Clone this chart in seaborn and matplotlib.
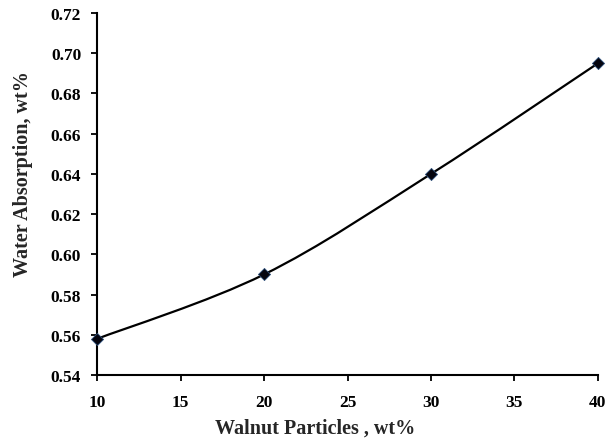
"""
plot.py -- water absorption vs walnut particle content
"""
import numpy as np
import pandas as pd
import matplotlib
matplotlib.use("Agg")
import matplotlib.pyplot as plt
import seaborn as sns
from matplotlib.path import Path
from matplotlib.patches import PathPatch

# -------------------------------------------------------------------
# data
# -------------------------------------------------------------------
walnut_wt = [10, 20, 30, 40]
water_abs = [0.558, 0.590, 0.640, 0.695]
x_ticks = [10, 15, 20, 25, 30, 35, 40]
y_ticks = [0.54, 0.56, 0.58, 0.60, 0.62, 0.64, 0.66, 0.68, 0.70, 0.72]

df = pd.DataFrame({"wt": walnut_wt, "wa": water_abs})

sns.set_theme(style="ticks")
plt.rcParams["font.family"] = ["Liberation Serif", "DejaVu Serif"]
plt.rcParams["font.weight"] = "bold"


def smooth_path(xs, ys):
    """Excel-style smoothed line (Catmull-Rom as cubic Bezier)"""
    pts = np.column_stack([xs, ys]).astype(float)
    n = len(pts)
    verts = [pts[0]]
    codes = [Path.MOVETO]
    for i in range(n - 1):
        p0 = pts[i - 1] if i > 0 else pts[i]
        p1, p2 = pts[i], pts[i + 1]
        p3 = pts[i + 2] if i + 2 < n else pts[i + 1]
        c1 = p1 + (p2 - p0) / 6
        c2 = p2 - (p3 - p1) / 6
        verts += [c1, c2, p2]
        codes += [Path.CURVE4] * 3
    return Path(verts, codes)


fig = plt.figure(figsize=(6.07, 4.39), dpi=100)
ax = fig.add_axes([0.160, 0.1435, 0.825, 0.8245])

ax.add_patch(PathPatch(smooth_path(df["wt"], df["wa"]), fill=False,
                       edgecolor="black", lw=1.6, zorder=2))
sns.scatterplot(data=df, x="wt", y="wa", marker="D", s=38, color="#05050f",
                edgecolor="#2d4f7a", linewidth=0.6, zorder=3, ax=ax,
                clip_on=False)

ax.set_xlim(10, 40)
ax.set_ylim(0.54, 0.72)
ax.set_xticks(x_ticks)
ax.set_yticks(y_ticks)
ax.set_yticklabels([f"{v:.2f}" for v in y_ticks])

for side in ("top", "right"):
    ax.spines[side].set_visible(False)
for side in ("left", "bottom"):
    ax.spines[side].set_linewidth(1.5)
    ax.spines[side].set_color("black")

ax.tick_params(axis="both", direction="out", length=4.5, width=1.3,
               colors="black", labelsize=12.5)
ax.tick_params(axis="y", pad=7)
ax.tick_params(axis="x", pad=9)

# Excel puts the axis titles a bit off-centre
ax.set_xlabel("Walnut Particles , wt%", fontsize=14.5, fontweight="bold")
ax.set_ylabel("Water Absorption, wt%", fontsize=14.5, fontweight="bold")
ax.xaxis.set_label_coords(0.435, -0.118)
ax.yaxis.set_label_coords(-0.128, 0.558)

fig.savefig("out.png", dpi=100)
